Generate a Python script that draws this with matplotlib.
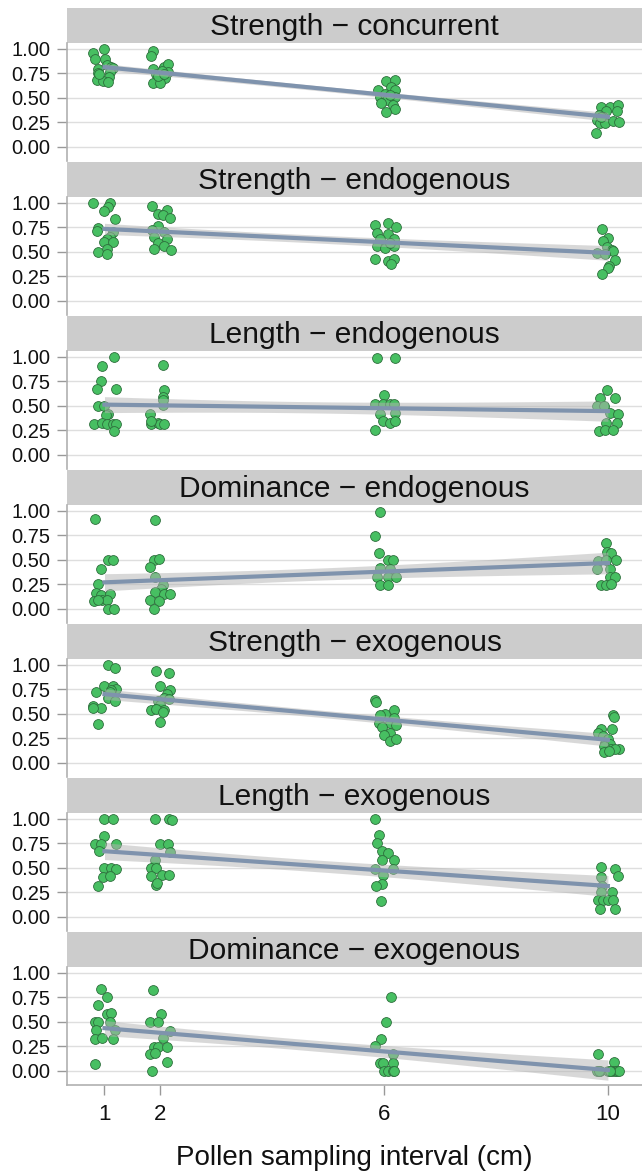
import numpy as np
import matplotlib
matplotlib.use("Agg")
import matplotlib.pyplot as plt

plt.rcParams['font.family'] = ['Liberation Sans', 'DejaVu Sans']

x_levels = [1, 2, 6, 10]
y_ticks = [0.0, 0.25, 0.5, 0.75, 1.0]

# values per sampling interval (1, 2, 6, 10 cm); dx = horizontal jitter
str_conc_y = [[0.96, 0.90, 1.00, 0.895, 0.84, 0.80, 0.75, 0.82, 0.81, 0.77, 0.71, 0.68, 0.67, 0.66, 0.74],
              [0.98, 0.93, 0.80, 0.80, 0.82, 0.85, 0.76, 0.74, 0.78, 0.70, 0.65, 0.65, 0.72, 0.745],
              [0.67, 0.68, 0.58, 0.61, 0.58, 0.51, 0.54, 0.51, 0.48, 0.45, 0.43, 0.39, 0.36, 0.53],
              [0.41, 0.41, 0.43, 0.37, 0.37, 0.33, 0.305, 0.28, 0.24, 0.24, 0.27, 0.25, 0.14, 0.31]]
str_conc_dx = [[-0.20, -0.17, 0.00, 0.01, 0.05, -0.12, -0.11, 0.11, 0.15, 0.10, 0.08, -0.14, -0.02, 0.07, -0.09],
               [-0.13, -0.17, -0.13, 0.04, 0.07, 0.13, 0.13, -0.07, 0.02, 0.09, -0.13, -0.01, -0.04, 0.06],
               [0.04, 0.20, -0.11, 0.13, 0.20, -0.07, 0.02, 0.20, 0.05, -0.05, 0.15, 0.20, 0.04, 0.10],
               [-0.12, 0.04, 0.18, 0.17, -0.03, -0.16, -0.09, -0.20, -0.14, -0.05, 0.10, 0.19, -0.21, -0.12]]

str_endo_y = [[1.00, 1.00, 0.955, 0.915, 0.84, 0.74, 0.71, 0.70, 0.65, 0.63, 0.60, 0.60, 0.53, 0.50, 0.48],
              [0.97, 0.925, 0.89, 0.88, 0.85, 0.76, 0.72, 0.70, 0.65, 0.63, 0.59, 0.56, 0.53, 0.525],
              [0.78, 0.80, 0.755, 0.69, 0.68, 0.63, 0.63, 0.56, 0.54, 0.56, 0.59, 0.43, 0.41, 0.43, 0.38],
              [0.735, 0.64, 0.61, 0.55, 0.525, 0.505, 0.49, 0.475, 0.42, 0.36, 0.335, 0.28]]
str_endo_dx = [[-0.20, 0.09, 0.07, 0.00, 0.18, -0.11, -0.14, 0.15, 0.09, 0.05, 0.00, 0.16, 0.05, -0.11, 0.05],
               [-0.15, 0.11, -0.04, 0.04, 0.17, -0.05, -0.15, 0.07, -0.11, 0.11, -0.04, 0.06, -0.11, 0.19],
               [-0.17, 0.07, 0.22, -0.12, 0.07, -0.07, 0.18, -0.12, 0.02, 0.18, 0.10, -0.17, 0.07, 0.18, 0.12],
               [-0.11, 0.00, -0.09, -0.01, 0.07, 0.09, -0.20, -0.05, 0.13, 0.02, 0.00, -0.11]]

len_endo_y = [[1.00, 0.905, 0.75, 0.67, 0.67, 0.50, 0.50, 0.415, 0.41, 0.32, 0.33, 0.32, 0.32, 0.32, 0.245],
              [0.92, 0.66, 0.59, 0.51, 0.42, 0.32, 0.33, 0.32, 0.32, 0.35, 0.565],
              [0.99, 0.99, 0.61, 0.52, 0.52, 0.52, 0.52, 0.42, 0.43, 0.35, 0.33, 0.35, 0.255],
              [0.66, 0.585, 0.585, 0.50, 0.50, 0.425, 0.42, 0.325, 0.325, 0.24, 0.25, 0.25]]
len_endo_dx = [[0.17, -0.04, -0.06, -0.14, 0.20, -0.11, 0.00, 0.07, 0.02, -0.18, -0.05, 0.04, 0.15, 0.20, 0.17],
               [0.04, 0.06, 0.04, 0.04, -0.18, -0.16, -0.05, 0.00, 0.06, -0.16, 0.04],
               [-0.12, 0.20, 0.00, -0.17, -0.02, 0.10, 0.17, -0.07, 0.20, -0.02, 0.10, 0.20, -0.17],
               [-0.01, -0.14, 0.13, -0.20, -0.07, 0.04, 0.18, -0.04, 0.17, -0.16, -0.05, 0.09]]

dom_endo_y = [[0.92, 0.50, 0.50, 0.41, 0.25, 0.16, 0.145, 0.155, 0.085, 0.09, 0.09, 0.095, 0.00, 0.00],
              [0.905, 0.50, 0.505, 0.425, 0.33, 0.245, 0.20, 0.17, 0.155, 0.155, 0.095, 0.078, 0.00],
              [0.99, 0.745, 0.575, 0.50, 0.50, 0.42, 0.41, 0.325, 0.33, 0.33, 0.245, 0.245],
              [0.675, 0.585, 0.575, 0.49, 0.50, 0.50, 0.405, 0.405, 0.325, 0.33, 0.245, 0.245, 0.25]]
dom_endo_dx = [[-0.17, 0.07, 0.15, -0.07, -0.11, -0.16, -0.07, 0.09, -0.18, -0.04, 0.04, -0.11, 0.07, 0.17],
               [-0.10, -0.12, -0.03, -0.18, -0.09, 0.04, 0.01, -0.10, 0.07, 0.17, -0.18, -0.03, -0.11],
               [-0.07, -0.17, -0.10, 0.07, 0.15, -0.07, 0.11, -0.12, 0.07, 0.22, -0.07, 0.07],
               [-0.04, -0.01, 0.06, -0.18, -0.03, 0.15, -0.20, 0.04, 0.04, 0.12, -0.12, -0.03, 0.06]]

str_exo_y = [[1.00, 0.965, 0.72, 0.79, 0.785, 0.76, 0.745, 0.72, 0.66, 0.63, 0.58, 0.56, 0.565, 0.40],
             [0.94, 0.92, 0.79, 0.74, 0.70, 0.665, 0.635, 0.65, 0.59, 0.545, 0.545, 0.55, 0.52, 0.42],
             [0.64, 0.625, 0.50, 0.545, 0.49, 0.46, 0.41, 0.405, 0.39, 0.37, 0.31, 0.29, 0.225, 0.24],
             [0.49, 0.465, 0.35, 0.35, 0.31, 0.28, 0.245, 0.20, 0.19, 0.17, 0.145, 0.145, 0.14, 0.11, 0.12]]
str_exo_dx = [[0.07, 0.18, -0.15, 0.00, 0.15, 0.20, 0.11, 0.09, 0.07, 0.18, -0.20, -0.07, -0.21, -0.11],
              [-0.07, 0.15, 0.00, 0.18, 0.11, 0.06, -0.04, 0.15, 0.00, -0.16, 0.07, -0.07, 0.04, 0.00],
              [-0.17, -0.15, 0.02, 0.17, -0.07, 0.18, -0.09, 0.10, 0.22, -0.04, 0.11, 0.00, 0.10, 0.22],
              [0.09, 0.11, -0.12, 0.07, -0.18, -0.08, 0.01, -0.05, 0.04, -0.07, 0.06, 0.20, 0.13, -0.07, 0.02]]

len_exo_y = [[1.00, 1.00, 0.83, 0.745, 0.745, 0.745, 0.67, 0.50, 0.50, 0.485, 0.41, 0.42, 0.32],
             [1.00, 1.00, 0.99, 0.58, 0.745, 0.745, 0.66, 0.50, 0.50, 0.42, 0.425, 0.425, 0.33, 0.35],
             [1.00, 0.84, 0.75, 0.67, 0.655, 0.585, 0.585, 0.49, 0.49, 0.425, 0.34, 0.32, 0.16],
             [0.51, 0.485, 0.41, 0.42, 0.32, 0.25, 0.25, 0.17, 0.17, 0.17, 0.17, 0.085, 0.085]]
len_exo_dx = [[0.00, 0.16, 0.00, -0.17, -0.07, 0.20, -0.09, 0.00, 0.11, 0.20, -0.02, 0.09, -0.12],
              [-0.09, 0.15, 0.20, -0.09, 0.00, 0.13, 0.18, -0.16, -0.07, -0.16, 0.02, 0.15, -0.07, -0.06],
              [-0.16, -0.10, -0.12, -0.04, 0.07, -0.04, 0.17, -0.17, 0.15, -0.02, -0.04, -0.15, -0.05],
              [-0.12, 0.13, -0.12, 0.18, -0.10, -0.12, 0.07, -0.18, -0.09, 0.01, 0.09, -0.14, 0.13]]

dom_exo_y = [[0.84, 0.76, 0.67, 0.58, 0.59, 0.495, 0.495, 0.495, 0.42, 0.42, 0.33, 0.335, 0.33, 0.075],
             [0.83, 0.58, 0.50, 0.495, 0.41, 0.335, 0.245, 0.245, 0.245, 0.17, 0.18, 0.09, 0.00],
             [0.75, 0.495, 0.33, 0.26, 0.17, 0.085, 0.085, 0.085, 0.00, 0.00, 0.00, 0.00],
             [0.17, 0.09, 0.00, 0.00, 0.00, 0.00, 0.00, 0.00, 0.00, 0.00, 0.00]]
dom_exo_dx = [[-0.07, 0.05, -0.11, 0.05, 0.12, -0.17, -0.11, 0.09, -0.16, 0.18, -0.17, -0.05, 0.15, -0.17],
              [-0.13, 0.01, -0.18, -0.04, 0.18, 0.04, -0.12, -0.04, 0.11, -0.18, -0.10, 0.12, -0.15],
              [0.12, 0.04, -0.05, -0.16, 0.15, -0.07, -0.02, 0.15, 0.00, 0.06, 0.15, 0.18],
              [-0.18, 0.11, -0.20, -0.14, 0.00, 0.07, 0.13, 0.17, 0.20, -0.16, 0.03]]

panels = [("Strength \u2212 concurrent", str_conc_y, str_conc_dx),
          ("Strength \u2212 endogenous", str_endo_y, str_endo_dx),
          ("Length \u2212 endogenous", len_endo_y, len_endo_dx),
          ("Dominance \u2212 endogenous", dom_endo_y, dom_endo_dx),
          ("Strength \u2212 exogenous", str_exo_y, str_exo_dx),
          ("Length \u2212 exogenous", len_exo_y, len_exo_dx),
          ("Dominance \u2212 exogenous", dom_exo_y, dom_exo_dx)]

W, H = 642, 1176
fig = plt.figure(figsize=(W / 100, H / 100), dpi=100)

left_px = 67
strip_h = 35
plot_h = 118
step = 154

for i, (name, ys, dxs) in enumerate(panels):
    top = 8 + step * i
    # strip
    sax = fig.add_axes([left_px / W, 1 - (top + strip_h) / H, 1 - left_px / W, strip_h / H])
    sax.set_facecolor('#cccccc')
    sax.set_xticks([])
    sax.set_yticks([])
    for s in sax.spines.values():
        s.set_visible(False)
    sax.text(0.5, 0.45, name, ha='center', va='center', fontsize=21.5, color='#111111',
             transform=sax.transAxes)

    ax = fig.add_axes([left_px / W, 1 - (top + strip_h + plot_h) / H, 1 - left_px / W, plot_h / H])
    xs_all, ys_all, xg = [], [], []
    for xv, yy, dd in zip(x_levels, ys, dxs):
        for yv, dv in zip(yy, dd):
            xs_all.append(xv + dv)
            ys_all.append(yv)
            xg.append(xv)
    xs_all = np.array(xs_all)
    ys_all = np.array(ys_all)
    xg = np.array(xg, dtype=float)

    ax.scatter(xs_all, ys_all, s=50, facecolor='#47bf62', edgecolor='#2d6e3c', linewidth=0.6, zorder=3)

    # linear fit with 95% confidence band
    slope, inter = np.polyfit(xg, ys_all, 1)
    n = len(xg)
    resid = ys_all - (slope * xg + inter)
    s_err = np.sqrt(np.sum(resid ** 2) / (n - 2))
    xbar = xg.mean()
    sxx = np.sum((xg - xbar) ** 2)
    xf = np.linspace(1, 10, 100)
    yf = slope * xf + inter
    se = s_err * np.sqrt(1 / n + (xf - xbar) ** 2 / sxx)
    ax.fill_between(xf, yf - 2.0 * se, yf + 2.0 * se, color='#b3b3b3', alpha=0.5, lw=0, zorder=4)
    ax.plot(xf, yf, color='#7f93ad', lw=3, zorder=5)

    ax.set_xlim(0.33, 10.61)
    ax.set_ylim(-0.143, 1.061)
    ax.set_yticks(y_ticks)
    ax.set_yticklabels(['0.00', '0.25', '0.50', '0.75', '1.00'])
    ax.yaxis.grid(True, color='#dedede', lw=1)
    ax.set_axisbelow(True)
    ax.tick_params(axis='y', labelsize=14.5, length=7, width=1, color='#999999', pad=5, labelcolor='#111111')
    for side in ['top', 'right']:
        ax.spines[side].set_visible(False)
    ax.spines['left'].set_color('#b0b0b0')
    ax.spines['left'].set_linewidth(1.2)
    if i == len(panels) - 1:
        ax.set_xticks(x_levels)
        ax.set_xticklabels([str(v) for v in x_levels])
        ax.tick_params(axis='x', labelsize=16, length=7, width=1, color='#999999', pad=7, labelcolor='#111111')
        ax.spines['bottom'].set_color('#b0b0b0')
        ax.spines['bottom'].set_linewidth(1.2)
        ax.set_xlabel('Pollen sampling interval (cm)', fontsize=20, color='#111111', labelpad=14)
    else:
        ax.set_xticks([])
        ax.spines['bottom'].set_visible(False)

fig.savefig('out.png', dpi=100)
